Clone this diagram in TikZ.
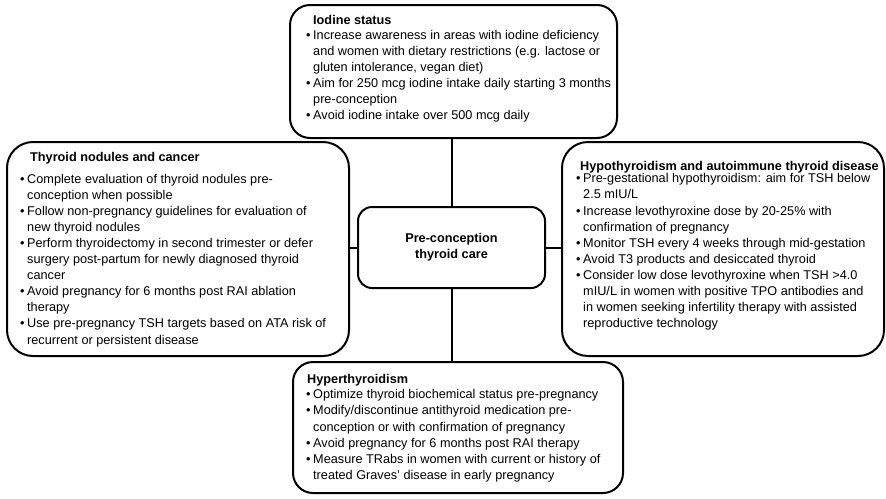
\documentclass[tikz,border=0pt]{standalone}
\usepackage{fontspec}
\setmainfont{Liberation Sans}

\tikzset{
  careBox/.style={draw, line width=2pt, rounded corners=20pt, inner sep=0pt},
  headText/.style={anchor=base west, inner sep=0pt, font=\fontsize{12.7}{16.1}\selectfont\bfseries},
  listText/.style={anchor=north west, inner sep=0pt, align=left, font=\fontsize{12.7}{16.1}\selectfont},
  link/.style={line width=2pt}
}
\newcommand{\bul}{\makebox[7pt][l]{\textbullet}}
\newcommand{\cnt}{\hspace*{7pt}}

\begin{document}
\begin{tikzpicture}[x=1pt, y=-1pt]
  \useasboundingbox (0,0) rectangle (886,498);

  % boxes
  \node (iodine)  at (453.5, 71.5) [careBox, minimum width=327pt, minimum height=133pt] {};
  \node (nodules) at (178.0,249.0) [careBox, rounded corners=26pt, minimum width=342pt, minimum height=214pt] {};
  \node (hypo)    at (723.0,249.0) [careBox, rounded corners=26pt, minimum width=322pt, minimum height=214pt] {};
  \node (hyper)   at (458.0,427.5) [careBox, minimum width=330pt, minimum height=131pt] {};
  \node (care)    at (451.5,247.5) [careBox, rounded corners=14pt, minimum width=187pt, minimum height=81pt,
                                    align=center, font=\fontsize{12.7}{16.1}\selectfont\bfseries]
                                   {Pre-conception\\thyroid care};

  % iodine status
  \node (iodineHead) at (313, 24.0) [headText] {Iodine status};
  \node (iodineList) at (306, 29.6) [listText] {%
    \bul Increase awareness in areas with iodine deficiency\\
    \cnt and women with dietary restrictions (e.g. lactose or\\
    \cnt gluten intolerance, vegan diet)\\
    \bul Aim for 250 mcg iodine intake daily starting 3 months\\
    \cnt pre-conception\\
    \bul Avoid iodine intake over 500 mcg daily};

  % thyroid nodules and cancer
  \node (nodulesHead) at (30, 161.6) [headText] {Thyroid nodules and cancer};
  \node (nodulesList) at (20, 173.6) [listText] {%
    \bul Complete evaluation of thyroid nodules pre-\\
    \cnt conception when possible\\
    \bul Follow non-pregnancy guidelines for evaluation of\\
    \cnt new thyroid nodules\\
    \bul Perform thyroidectomy in second trimester or defer\\
    \cnt surgery post-partum for newly diagnosed thyroid\\
    \cnt cancer\\
    \bul Avoid pregnancy for 6 months post RAI ablation\\
    \cnt therapy\\
    \bul Use pre-pregnancy TSH targets based on ATA risk of\\
    \cnt recurrent or persistent disease};

  % hypothyroidism
  \node (hypoHead) at (580, 170.0) [headText] {Hypothyroidism and autoimmune thyroid disease};
  \node (hypoList) at (576, 173.4) [listText] {%
    \bul Pre-gestational hypothyroidism: aim for TSH below\\
    \cnt 2.5 mIU/L\\
    \bul Increase levothyroxine dose by 20-25\% with\\
    \cnt confirmation of pregnancy\\
    \bul Monitor TSH every 4 weeks through mid-gestation\\
    \bul Avoid T3 products and desiccated thyroid\\
    \bul Consider low dose levothyroxine when TSH >4.0\\
    \cnt mIU/L in women with positive TPO antibodies and\\
    \cnt in women seeking infertility therapy with assisted\\
    \cnt reproductive technology};

  % hyperthyroidism
  \node (hyperHead) at (307, 383.0) [headText] {Hyperthyroidism};
  \node (hyperList) at (306, 389.4) [listText] {%
    \bul Optimize thyroid biochemical status pre-pregnancy\\
    \bul Modify/discontinue antithyroid medication pre-\\
    \cnt conception or with confirmation of pregnancy\\
    \bul Avoid pregnancy for 6 months post RAI therapy\\
    \bul Measure TRabs in women with current or history of\\
    \cnt treated Graves' disease in early pregnancy};

  % connectors
  \draw [link] (care.north) -- (care.north |- iodine.south);
  \draw [link] (care.south) -- (care.south |- hyper.north);
  \draw [link] (care.west) -- (care.west -| nodules.east);
  \draw [link] (care.east) -- (care.east -| hypo.west);
\end{tikzpicture}
\end{document}
